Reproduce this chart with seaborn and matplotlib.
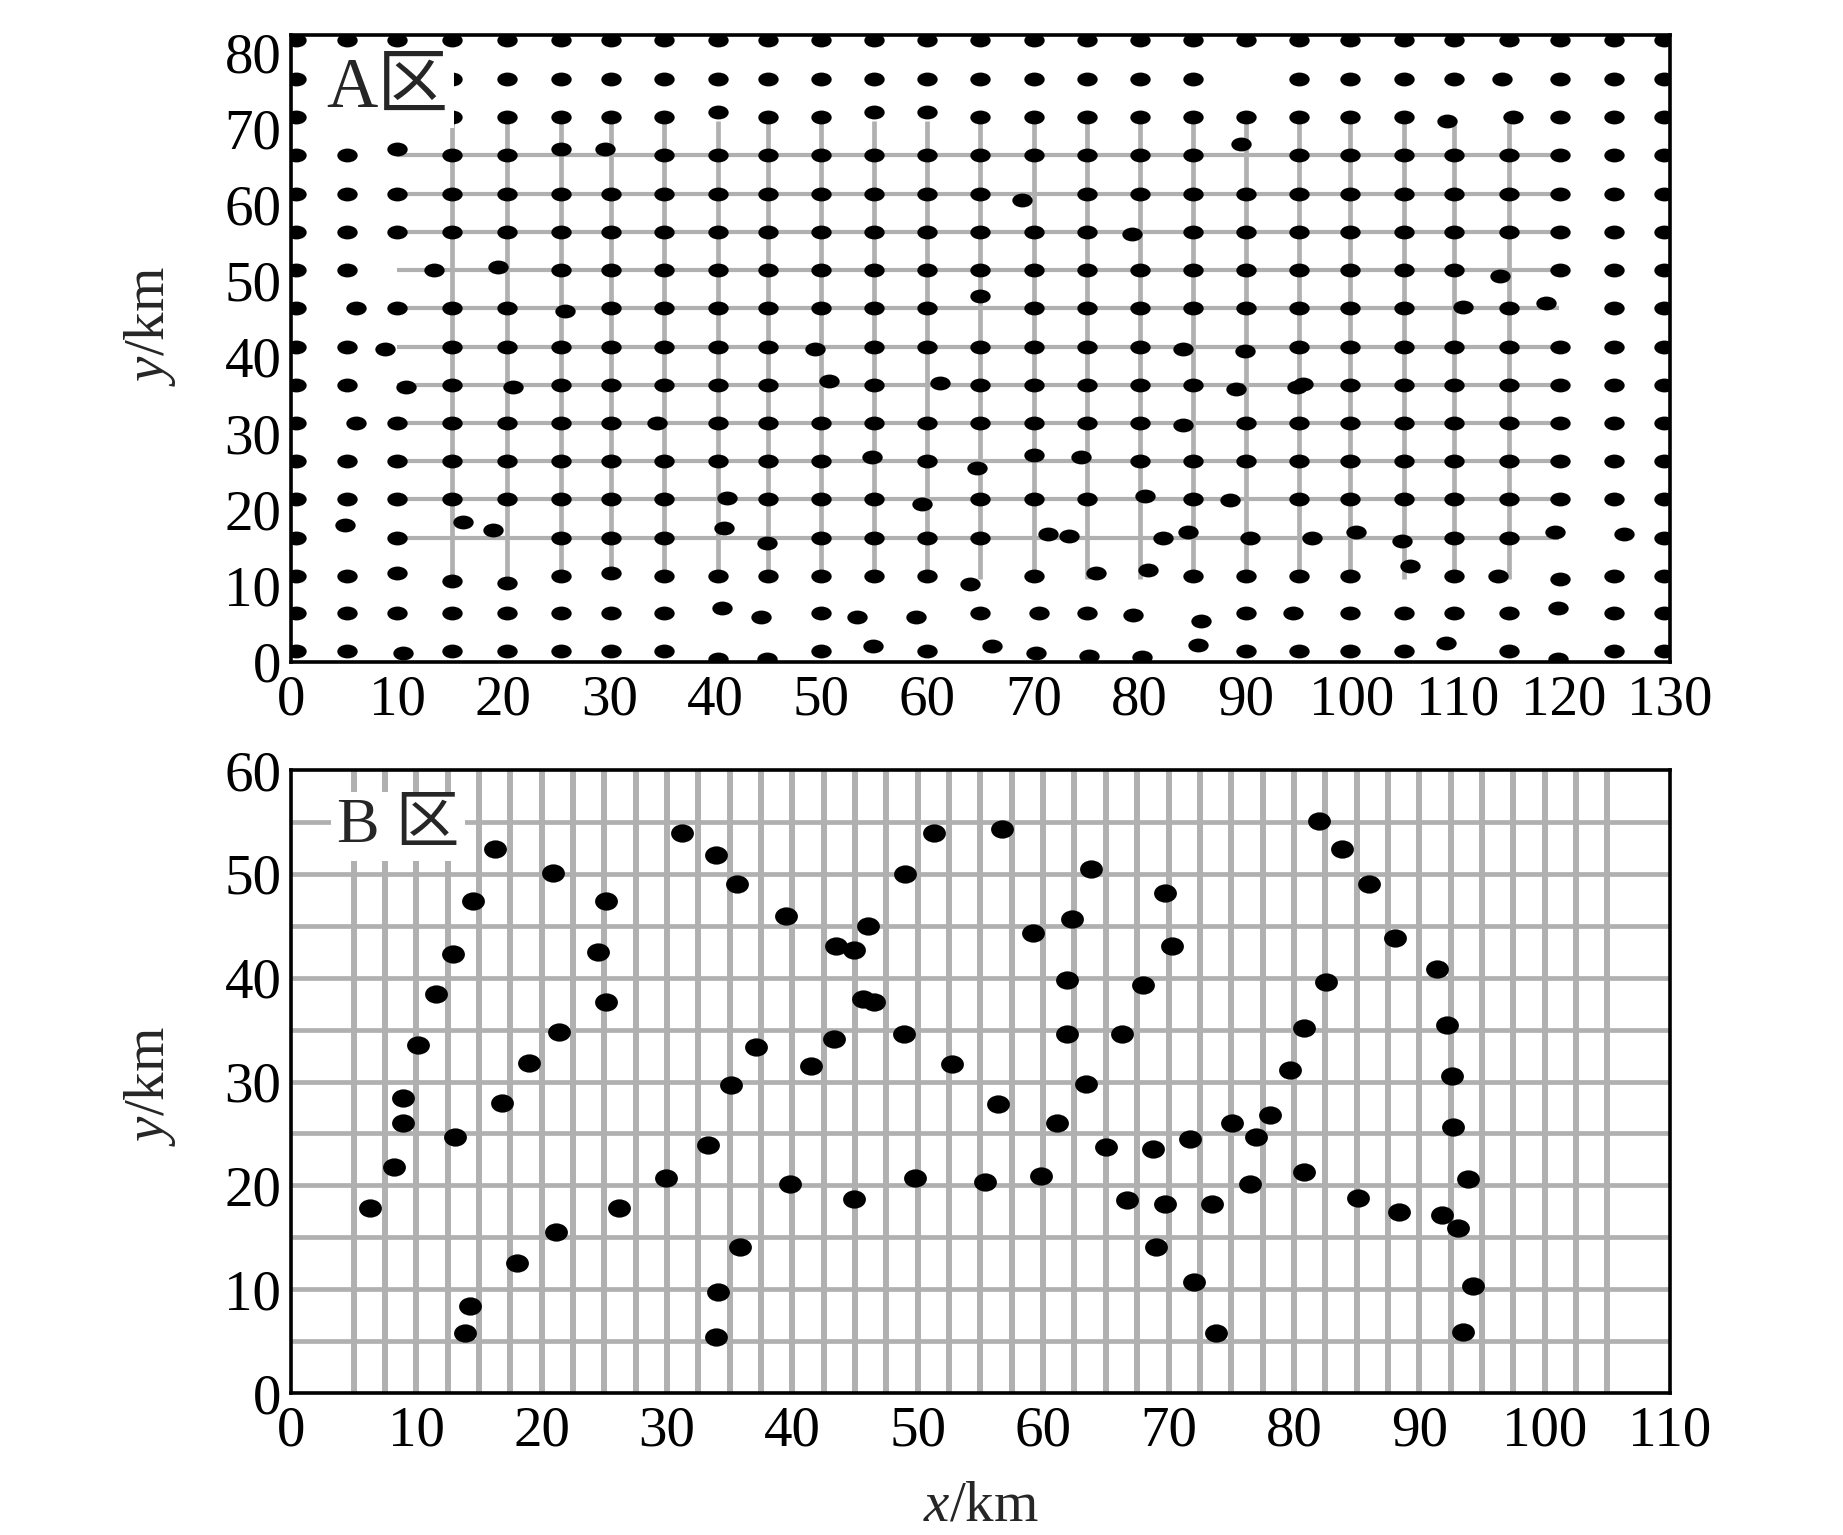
import numpy as np
import pandas as pd
import matplotlib
matplotlib.use('Agg')
import matplotlib.pyplot as plt
from matplotlib.path import Path
from matplotlib.markers import MarkerStyle
import seaborn as sns

# ---- zone A: survey grid (dot columns / rows)
a_cols = [0.5, 5.3, 10.0, 15.2, 20.4, 25.5, 30.2, 35.2, 40.3, 45.0, 50.0, 55.0, 60.0, 65.0,
          70.0, 75.0, 80.0, 85.0, 90.0, 95.0, 99.8, 104.9, 109.6, 114.8, 119.6, 124.7, 129.4]
a_rows = [1.4, 6.4, 11.3, 16.3, 21.3, 26.3, 31.3, 36.3, 41.3, 46.4, 51.4, 56.4, 61.4, 66.5,
          71.5, 76.5, 81.6]
# stations that are absent: (nominal column km, row index)
a_missing = [(10, 10), (90, 15)]
# stations off the regular grid: (nominal column km, row index) -> (x, y)
a_moved = {
    (10, 0): (10.6, 1.1), (40, 0): (40.3, 0.3), (45, 0): (44.9, 0.3), (55, 0): (54.9, 2.0),
    (65, 0): (66.1, 2.0), (70, 0): (70.2, 1.1), (75, 0): (75.2, 0.8), (80, 0): (80.2, 0.6),
    (85, 0): (85.5, 2.2), (110, 0): (108.9, 2.5), (120, 0): (119.4, 0.3),
    (40, 1): (40.6, 7.0), (45, 1): (44.3, 5.9), (55, 1): (53.4, 5.9), (60, 1): (58.9, 5.9),
    (70, 1): (70.5, 6.4), (80, 1): (79.4, 6.1), (85, 1): (85.8, 5.3), (95, 1): (94.5, 6.4),
    (120, 1): (119.4, 7.0),
    (10, 2): (10.0, 11.7), (15, 2): (15.2, 10.6), (20, 2): (20.4, 10.3), (30, 2): (30.2, 11.7),
    (65, 2): (64.0, 10.2), (75, 2): (75.9, 11.7), (80, 2): (80.8, 12.0), (105, 2): (105.5, 12.6),
    (115, 2): (113.8, 11.2), (120, 2): (119.6, 10.9),
    (5, 3): (5.1, 17.9), (15, 3): (16.2, 18.4), (20, 3): (19.0, 17.3), (40, 3): (40.8, 17.6),
    (45, 3): (44.9, 15.6), (70, 3): (71.4, 16.8), (75, 3): (73.3, 16.5), (80, 3): (82.2, 16.2),
    (85, 3): (84.6, 17.0), (90, 3): (90.4, 16.2), (95, 3): (96.3, 16.2), (100, 3): (100.4, 17.0),
    (105, 3): (104.7, 15.9), (120, 3): (119.2, 17.0), (125, 3): (125.7, 16.8),
    (40, 4): (41.1, 21.5), (60, 4): (59.5, 20.7), (80, 4): (80.5, 21.8), (90, 4): (88.5, 21.2),
    (55, 5): (54.8, 26.8), (65, 5): (64.7, 25.4), (70, 5): (70.0, 27.1), (75, 5): (74.5, 26.8),
    (5, 6): (6.1, 31.3), (35, 6): (34.5, 31.3), (85, 6): (84.1, 31.0),
    (10, 7): (10.8, 36.0), (20, 7): (20.9, 36.0), (50, 7): (50.7, 36.9), (60, 7): (61.2, 36.6),
    (90, 7): (89.1, 35.8), (95, 7): (94.8, 36.0),
    (10, 8): (8.9, 41.1), (50, 8): (49.4, 41.1), (85, 8): (84.1, 41.1), (90, 8): (89.9, 40.8),
    (5, 9): (6.1, 46.4), (25, 9): (25.8, 46.0), (65, 9): (65.0, 48.0), (110, 9): (110.5, 46.6),
    (120, 9): (118.3, 47.1),
    (15, 10): (13.5, 51.4), (20, 10): (19.5, 51.8), (115, 10): (114.0, 50.6),
    (80, 11): (79.3, 56.1),
    (70, 12): (68.9, 60.6),
    (10, 13): (10.0, 67.3), (25, 13): (25.5, 67.3), (30, 13): (29.6, 67.3), (90, 13): (89.6, 67.9),
    (40, 14): (40.3, 72.1), (55, 14): (55.0, 72.1), (60, 14): (60.0, 72.1), (110, 14): (109.0, 71.0),
    (115, 14): (115.2, 71.5),
    (115, 15): (114.2, 76.5),
}
a_extra_x = [95.4]
a_extra_y = [36.4]
# grey survey lines in zone A
a_vline_x = a_cols[3:24]          # columns 15 ... 115 km
a_vline_span = (10.8, 71.0)
a_hline_y = a_rows[3:14]          # rows 16 ... 66 km
a_hline_span = (10.0, 119.5)

# ---- zone B: scattered stations on a grey grid
b_x = [16.3, 20.9, 14.5, 25.1, 12.9, 24.5, 11.6, 25.1, 21.4, 10.1, 19.0, 8.9, 16.8, 8.9, 13.1,
       8.2, 6.3, 26.2, 21.1, 18.0, 14.3, 13.9,
       31.2, 33.9, 35.6, 39.5, 46.0, 43.5, 44.9, 45.6, 46.5, 49.0, 51.3, 48.9, 43.3, 37.1, 41.5,
       52.7, 35.1, 33.3, 29.9, 39.8, 49.8, 44.9, 35.8, 34.1, 33.9,
       56.7, 82.0, 63.8, 69.7, 62.3, 59.2, 70.3, 61.9, 68.0, 82.6, 61.9, 66.3, 80.8, 79.7, 63.4,
       56.4, 61.1, 75.1, 78.1, 65.0, 68.8, 71.7, 77.0, 55.4, 59.8, 80.8, 76.5, 66.7, 69.7, 73.5,
       69.0, 72.0, 73.8,
       83.8, 86.0, 88.1, 91.4, 92.2, 92.6, 92.7, 93.9, 85.1, 88.4, 91.8, 93.1, 94.3, 93.5]
b_y = [52.4, 50.1, 47.4, 47.4, 42.3, 42.5, 38.4, 37.7, 34.8, 33.5, 31.8, 28.4, 27.9, 26.0, 24.7,
       21.8, 17.8, 17.8, 15.5, 12.5, 8.4, 5.8,
       53.9, 51.8, 49.0, 45.9, 45.0, 43.1, 42.7, 38.0, 37.7, 50.0, 53.9, 34.6, 34.1, 33.3, 31.5,
       31.7, 29.7, 23.9, 20.7, 20.1, 20.7, 18.7, 14.1, 9.7, 5.4,
       54.3, 55.1, 50.5, 48.2, 45.7, 44.3, 43.1, 39.8, 39.3, 39.6, 34.6, 34.6, 35.2, 31.1, 29.8,
       27.8, 26.0, 26.0, 26.8, 23.7, 23.5, 24.5, 24.7, 20.3, 20.9, 21.3, 20.1, 18.6, 18.2, 18.2,
       14.1, 10.7, 5.8,
       52.4, 49.0, 43.8, 40.8, 35.4, 30.5, 25.6, 20.6, 18.8, 17.4, 17.1, 15.9, 10.3, 5.9]
b_vline_x = [5, 7.5, 10, 12.5, 15, 17.5, 20, 22.5, 25, 27.5, 30, 32.5, 35, 37.5, 40, 42.5, 45,
             47.5, 50, 52.5, 55, 57.5, 60, 62.5, 65, 67.5, 70, 72.5, 75, 77.5, 80, 82.5, 85,
             87.5, 90, 92.5, 95, 97.5, 100, 102.5, 105]
b_hline_y = [5, 10, 15, 20, 25, 30, 35, 40, 45, 50, 55]

# build zone A station table
rows_a = []
for i, cx in enumerate(a_cols):
    for j, ry in enumerate(a_rows):
        key = (5 * i, j)
        if key in a_missing:
            continue
        px, py = a_moved.get(key, (cx, ry))
        rows_a.append((px, py))
for px, py in zip(a_extra_x, a_extra_y):
    rows_a.append((px, py))
dfA = pd.DataFrame(rows_a, columns=['x', 'y'])
dfB = pd.DataFrame({'x': b_x, 'y': b_y})

sns.set_theme(style='white')
plt.rcParams['font.family'] = ['Liberation Serif', 'Noto Sans CJK SC']
plt.rcParams['mathtext.fontset'] = 'custom'
plt.rcParams['mathtext.rm'] = 'Liberation Serif'
plt.rcParams['mathtext.it'] = 'Liberation Serif:italic'

GREY = '#b0b0b0'
FS = 41

def ellipse_marker(ratio):
    c = Path.unit_circle()
    return MarkerStyle(Path(c.vertices * [1.0, ratio], c.codes))

fig = plt.figure(figsize=(18.43, 15.35), dpi=100)
ax1 = fig.add_axes([0.1579, 0.5689, 0.7482, 0.4081])
ax2 = fig.add_axes([0.1579, 0.0925, 0.7482, 0.4058])

# zone A
ax1.vlines(a_vline_x, *a_vline_span, color=GREY, lw=3.4, zorder=1)
ax1.hlines(a_hline_y, *a_hline_span, color=GREY, lw=3.0, zorder=1)
sns.scatterplot(data=dfA, x='x', y='y', ax=ax1, marker=ellipse_marker(0.68), s=215,
                color='black', linewidth=0, zorder=3, legend=False)
ax1.set_xlim(0, 130)
ax1.set_ylim(0, 82.2)
ax1.set_xticks(range(0, 131, 10))
ax1.set_yticks(range(0, 81, 10))
ax1.text(3.3, 72.8, 'A区', fontsize=51, ha='left', va='baseline', zorder=6,
         bbox=dict(facecolor='white', edgecolor='none', pad=4))

# zone B
ax2.vlines(b_vline_x, 0, 60, color=GREY, lw=4.3, zorder=1)
ax2.hlines(b_hline_y, 0, 110, color=GREY, lw=3.4, zorder=1)
sns.scatterplot(data=dfB, x='x', y='y', ax=ax2, marker=ellipse_marker(0.8), s=270,
                color='black', linewidth=0, zorder=3, legend=False)
ax2.set_xlim(0, 110)
ax2.set_ylim(0, 60)
ax2.set_xticks(range(0, 111, 10))
ax2.set_yticks(range(0, 61, 10))
ax2.text(3.65, 53.1, 'B 区', fontsize=46, ha='left', va='baseline', zorder=6,
         bbox=dict(facecolor='white', edgecolor='none', pad=4))

for ax, ly in ((ax1, 0.536), (ax2, 0.493)):
    for sp in ax.spines.values():
        sp.set_linewidth(2.6)
        sp.set_color('black')
        sp.set_zorder(5)
    ax.tick_params(axis='both', direction='in', length=9, width=2.2, labelsize=FS,
                   top=False, right=False, colors='black')
    ax.tick_params(axis='y', pad=7)
    ax.tick_params(axis='x', pad=9)
    ax.set_ylabel('$y$/km', fontsize=FS)
    ax.yaxis.set_label_coords(-0.082, ly)
    ax.set_xlabel('')
    ax.grid(False)

ax2.set_xlabel('$x$/km', fontsize=FS)
ax2.xaxis.set_label_coords(0.5, -0.14)

fig.savefig('out.png', dpi=100, facecolor='white')
